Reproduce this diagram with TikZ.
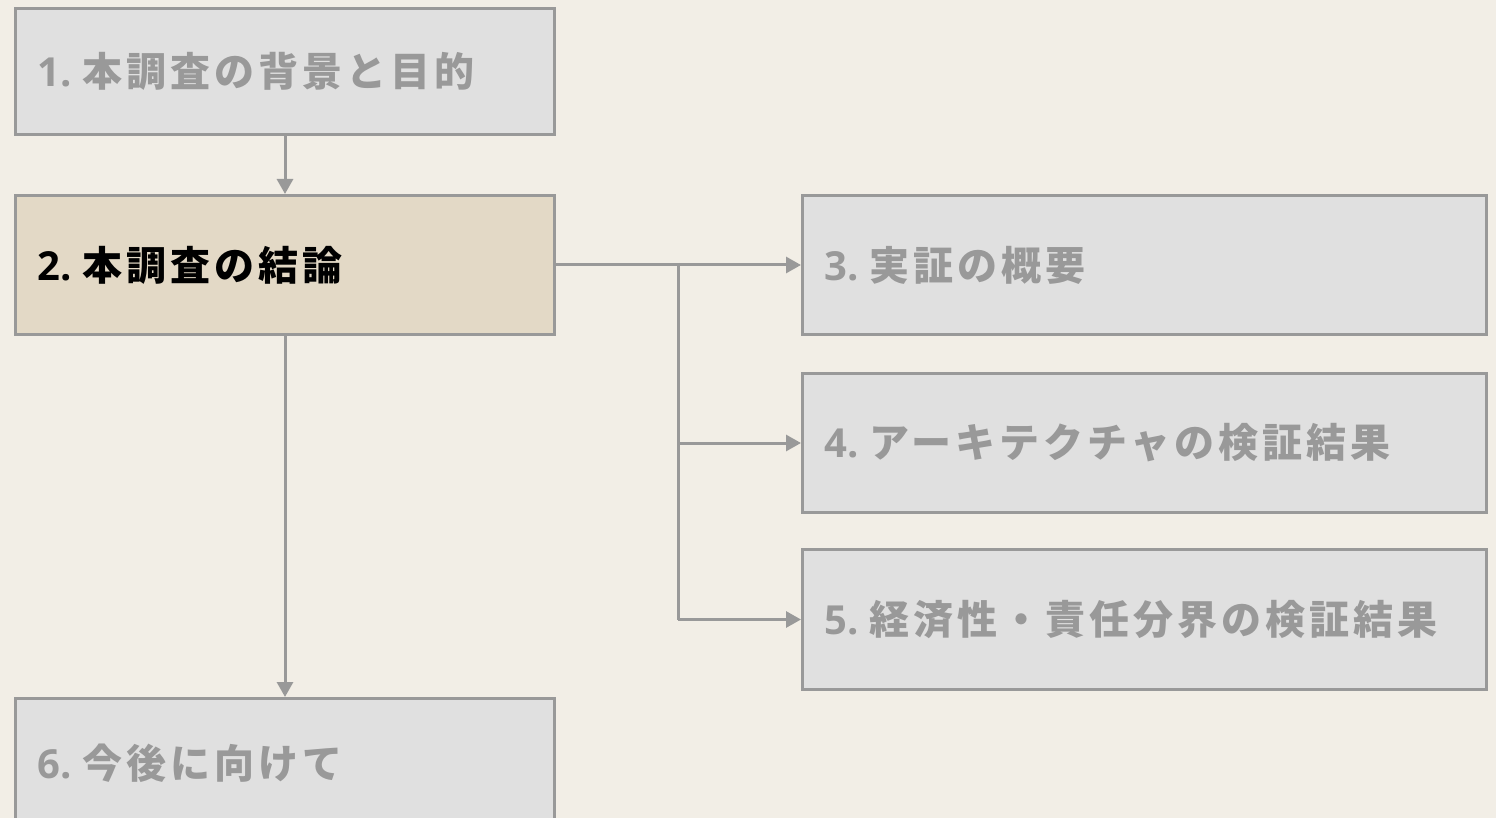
\documentclass[tikz,border=0pt]{standalone}
\usepackage{fontspec}
\newfontfamily\jp[LetterSpace=10]{Noto Sans CJK JP}
\newfontfamily\latb{Open Sans}
\usetikzlibrary{arrows.meta}
\definecolor{bgc}{HTML}{F2EEE6}
\definecolor{boxc}{HTML}{E0E0E0}
\definecolor{activec}{HTML}{E3D9C6}
\definecolor{bordc}{HTML}{999999}
\definecolor{txtc}{HTML}{999999}
\newcommand{\pfx}[1]{\makebox[45pt][l]{\latb\bfseries #1}}
\tikzset{
  box/.style={draw=bordc, line width=3pt, fill=boxc, anchor=north west,
    inner xsep=22pt, inner ysep=0pt, align=left,
    font=\jp\bfseries\fontsize{40}{48}\selectfont, text=txtc},
  leftbox/.style={box, minimum width=539pt, text width=495pt},
  rightbox/.style={box, minimum width=684pt, text width=640pt, minimum height=139pt},
  activebox/.style={fill=activec, text=black},
  arr/.style={draw=bordc, line width=3pt, -{Triangle[length=15pt,width=16pt]}},
  conn/.style={draw=bordc, line width=3pt}
}
\begin{document}
\begin{tikzpicture}[x=1pt,y=-1pt]
\fill[bgc] (0,0) rectangle (1496,818);
\useasboundingbox (0,0) rectangle (1496,818);
\node[leftbox, minimum height=126pt] (b1) at (14,7) {\pfx{1.}本調査の背景と目的};
\node[leftbox, activebox, minimum height=139pt] (b2) at (14,194) {\pfx{2.}本調査の結論};
\node[rightbox] (b3) at (801,194) {\pfx{3.}実証の概要};
\node[rightbox] (b4) at (801,372) {\pfx{4.}アーキテクチャの検証結果};
\node[rightbox, minimum height=140pt] (b5) at (801,548) {\pfx{5.}経済性・責任分界の検証結果};
\node[leftbox, minimum height=130pt] (b6) at (14,697) {\pfx{6.}今後に向けて};
\coordinate (j) at (678,263);
\draw[arr] (b1.south) -- (b2.north);
\draw[arr] (b2.east) -- (b3.west);
\draw[conn] (j) -- (j |- b5.west);
\draw[arr] (j |- b4.west) -- (b4.west);
\draw[arr] (j |- b5.west) -- (b5.west);
\draw[arr] (b2.south) -- (b6.north);
\end{tikzpicture}
\end{document}
